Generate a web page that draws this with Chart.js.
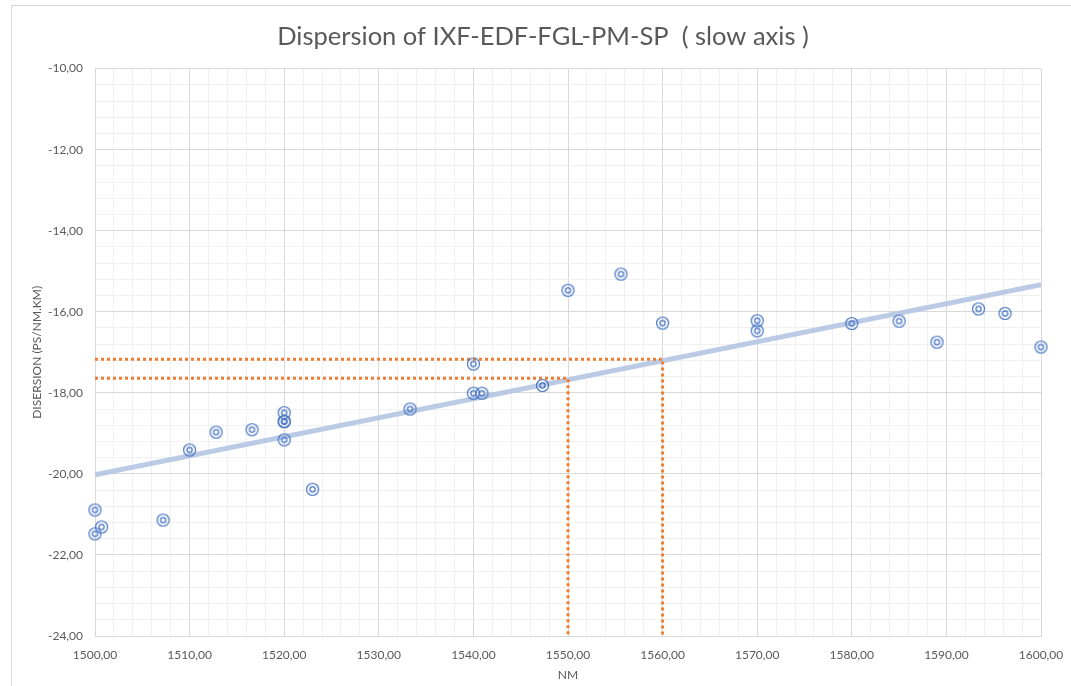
<!DOCTYPE html>
<html lang="en">
<head>
    <meta charset="UTF-8">
    <title>Dispersion of IXF-EDF-FGL-PM-SP</title>
    <script src="https://cdn.jsdelivr.net/npm/chart.js"></script>
    <style>
        body { margin: 0; background: #fff; }
        #wrap { width: 1071px; height: 686px; }
    </style>
</head>
<body>
    <div id="wrap"><canvas id="dispChart" width="1071" height="686"></canvas></div>
    <script>
        // measured points (NM, ps/nm.km)
        const nmValues = [1500, 1500, 1500.7, 1507.2, 1510, 1512.8, 1516.6, 1520, 1520, 1520, 1520, 1523, 1533.3, 1540, 1540, 1540.9, 1547.3, 1550, 1555.6, 1560, 1570, 1570, 1580, 1585, 1589, 1593.4, 1596.2, 1600];
        const dispValues = [-20.89, -21.48, -21.31, -21.14, -19.41, -18.97, -18.91, -18.49, -18.71, -18.71, -19.16, -20.38, -18.40, -17.29, -18.01, -18.01, -17.82, -15.47, -15.07, -16.28, -16.22, -16.47, -16.29, -16.23, -16.75, -15.93, -16.04, -16.87];

        // linear trend end points
        const trendNm = [1500, 1600];
        const trendDisp = [-20.02, -15.33];

        // orange reading guides (1550 and 1560 nm)
        const guideNm = [1550, 1560];
        const guideDisp = [-17.64, -17.17];

        const xMin = 1500, xMax = 1600, yMin = -24, yMax = -10;

        const isMult = (v, m) => Math.abs(v / m - Math.round(v / m)) < 1e-6;
        const fmt = v => v.toFixed(2).replace('.', ',');

        // double circle marker
        const marker = document.createElement('canvas');
        marker.width = 15; marker.height = 15;
        const mc = marker.getContext('2d');
        mc.strokeStyle = '#4472C4';
        mc.lineWidth = 1.2;
        mc.beginPath(); mc.arc(7.5, 7.5, 6, 0, Math.PI * 2); mc.stroke();
        mc.beginPath(); mc.arc(7.5, 7.5, 2.6, 0, Math.PI * 2); mc.stroke();

        const guideSets = guideNm.map((nm, i) => ({
            type: 'line',
            data: [{ x: xMin, y: guideDisp[i] }, { x: nm, y: guideDisp[i] }, { x: nm, y: yMin }],
            borderColor: '#ED7D31',
            borderWidth: 3,
            borderDash: [3, 3],
            pointRadius: 0,
            fill: false,
            order: 1
        }));

        const frame = {
            id: 'frame',
            beforeDraw(chart) {
                const c = chart.ctx;
                c.save();
                c.strokeStyle = '#d9d9d9';
                c.lineWidth = 1;
                c.strokeRect(11.5, 5.5, 1100, 700);
                c.restore();
            }
        };

        const tickFont = { family: 'Lato', size: 12 };

        new Chart(document.getElementById('dispChart'), {
            type: 'scatter',
            data: {
                datasets: [
                    {
                        data: nmValues.map((x, i) => ({ x, y: dispValues[i] })),
                        pointStyle: marker,
                        pointRadius: 7,
                        clip: false,
                        order: 0
                    },
                    {
                        type: 'line',
                        data: trendNm.map((x, i) => ({ x, y: trendDisp[i] })),
                        borderColor: 'rgba(180,197,226,0.9)',
                        borderWidth: 5,
                        pointRadius: 0,
                        fill: false,
                        order: 2
                    },
                    ...guideSets
                ]
            },
            options: {
                responsive: false,
                animation: false,
                layout: { padding: { left: 11, top: 5, right: -4, bottom: 0 } },
                plugins: {
                    legend: { display: false },
                    tooltip: { enabled: false },
                    title: {
                        display: true,
                        text: 'Dispersion of IXF-EDF-FGL-PM-SP  ( slow axis )',
                        color: '#595959',
                        font: { family: 'Lato', size: 25.5, weight: 'normal' },
                        padding: { top: 16, bottom: 17 }
                    }
                },
                scales: {
                    x: {
                        type: 'linear',
                        min: xMin, max: xMax,
                        afterFit: s => { s.height = 50; s.paddingRight = 30; },
                        ticks: {
                            stepSize: 2, autoSkip: false, maxRotation: 0, minRotation: 0,
                            padding: 12, color: '#595959', font: tickFont,
                            callback: v => isMult(v, 10) ? fmt(v) : ''
                        },
                        grid: {
                            drawTicks: false,
                            color: c => isMult(c.tick.value, 10) ? '#d9d9d9' : '#f0f0f0'
                        },
                        border: { color: '#d9d9d9' },
                        title: {
                            display: true, text: 'NM', color: '#595959',
                            font: { family: 'Lato', size: 12 },
                            padding: { top: 4, bottom: 4 }
                        }
                    },
                    y: {
                        min: yMin, max: yMax,
                        afterFit: s => { s.width = 84; },
                        ticks: {
                            stepSize: 0.4, autoSkip: false,
                            padding: 12, color: '#595959', font: tickFont,
                            callback: v => isMult(v, 2) ? fmt(v) : ''
                        },
                        grid: {
                            drawTicks: false,
                            color: c => isMult(c.tick.value, 2) ? '#d9d9d9' : '#f0f0f0'
                        },
                        border: { color: '#d9d9d9' },
                        title: {
                            display: true, text: 'DISERSION (PS/NM.KM)', color: '#595959',
                            font: { family: 'Lato', size: 12 },
                            padding: { top: 19, bottom: 0 }
                        }
                    }
                }
            },
            plugins: [frame]
        });
    </script>
</body>
</html>
